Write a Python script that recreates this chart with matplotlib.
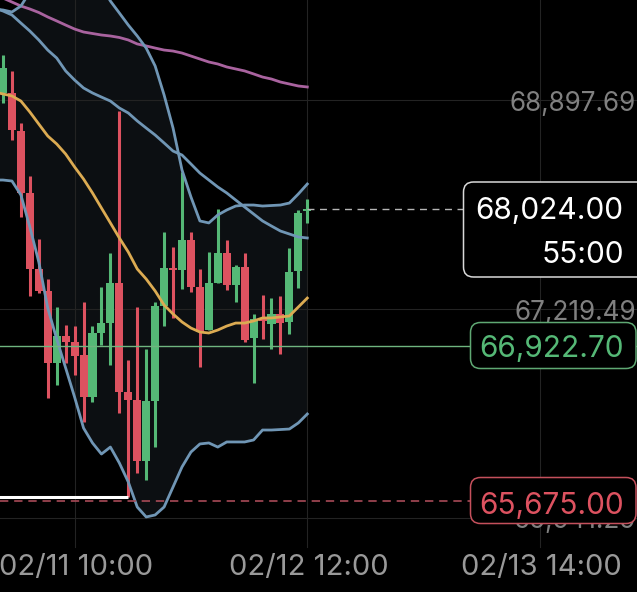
import numpy as np
import matplotlib
matplotlib.use('Agg')
import matplotlib.pyplot as plt
from matplotlib.patches import FancyBboxPatch
from matplotlib.transforms import IdentityTransform

plt.rcParams['font.family'] = ['Inter', 'DejaVu Sans']

# hourly candles, prices
opens = [68957, 68957, 68651, 68153, 67542, 67365, 66786, 67003, 66955, 66850,
         66512, 67027, 67107, 67429, 66553, 66488, 65998, 66480, 67244, 67550,
         67534, 67775, 67397, 67051, 67429, 67670, 67413, 67558, 66987, 67140,
         67099, 67180, 67115, 67526, 68008]
closes = [69158, 68659, 68153, 67542, 67365, 66786, 67003, 66955, 66842, 66512,
          67027, 67107, 67429, 66553, 66488, 65998, 66480, 67244, 67550, 67534,
          67775, 67397, 67035, 67429, 67670, 67413, 67558, 66971, 67140, 67124,
          67180, 67107, 67517, 67992, 68024]
highs = [69262, 69134, 68715, 68289, 67783, 67461, 67236, 67091, 67083, 67274,
         67083, 67397, 67670, 68812, 66810, 67236, 66898, 67276, 67839, 67718,
         68321, 67839, 67542, 67678, 68024, 67775, 67574, 67670, 67180, 67333,
         67308, 67325, 67710, 68016, 68104]
lows = [68876, 68579, 67960, 67325, 67349, 66504, 66609, 66786, 66689, 66311,
        66472, 66931, 66770, 66384, 65708, 65901, 65845, 66110, 67083, 67148,
        67381, 67357, 66754, 67051, 67429, 67373, 67276, 66955, 66625, 66979,
        66898, 66858, 67019, 67389, 67911]

# indicator lines start one candle earlier, off the left edge
upper = [69632, 69624, 69608, 69656, 69769, 69865, 69929, 69962, 69978, 69978, 69962, 69913,
         69817, 69696, 69600, 69503, 69415, 69318, 69174, 68941, 68675, 68338, 68121,
         67928, 67912, 67976, 68016, 68048, 68056, 68056, 68048, 68052, 68056, 68072,
         68145, 68225]
middle = [69640, 69616, 69584, 69519, 69455, 69383, 69302, 69238, 69134, 69061, 68997, 68957,
          68924, 68892, 68836, 68796, 68732, 68675, 68619, 68555, 68490, 68458, 68386,
          68313, 68257, 68201, 68153, 68096, 68040, 67984, 67928, 67887, 67847, 67823,
          67799, 67791]
lower = [68257, 68257, 68249, 68137, 67879, 67598, 67228, 66979, 66746, 66512, 66263, 66143,
         66054, 66110, 65982, 65829, 65628, 65548, 65564, 65628, 65789, 65950, 66070,
         66135, 66143, 66110, 66151, 66151, 66151, 66167, 66247, 66247, 66251, 66255,
         66304, 66376]
yellow_ma = [68965, 68949, 68933, 68892, 68804, 68707, 68611, 68547, 68466, 68362, 68265, 68153,
             68032, 67912, 67791, 67678, 67542, 67461, 67365, 67252, 67180, 67116, 67067,
             67035, 67027, 67051, 67083, 67107, 67107, 67124, 67148, 67148, 67156, 67164,
             67236, 67308]
purple_ma = [69745, 69720, 69688, 69656, 69632, 69604, 69568, 69536, 69503, 69471, 69447, 69435,
             69423, 69415, 69403, 69383, 69351, 69335, 69318, 69302, 69294, 69278, 69254,
             69230, 69206, 69190, 69166, 69150, 69134, 69110, 69085, 69069, 69045, 69029,
             69013, 69005]

price_ticks = [68897.69, 67219.49, 65541.29]
price_labels = ['68,897.69', '67,219.49', '65,541.29']
time_ticks = [8, 34, 60]
time_labels = ['02/11 10:00', '02/12 12:00', '02/13 14:00']

last_price = 68024.00
countdown = '55:00'
green_level = 66922.70
red_level = 65675.00

RED = '#dd5260'
GREEN = '#55b876'
BLUE = '#7096b5'
W, H = 637, 592

fig = plt.figure(figsize=(W / 100, H / 100), dpi=100, facecolor='black')
ax = fig.add_axes([0, 0, 1, 1], facecolor='black')
ax.set_xlim(-0.335, 70.84)
ax.set_ylim(64944.7, 69704.4)
ax.axis('off')

x = np.arange(len(opens))
x_lines = np.arange(-1, len(opens))

ax.fill_between(x_lines, lower, upper, color='#0c0f12', lw=0, zorder=1)

for p in price_ticks:
    ax.axhline(p, color='#232323', lw=0.8, zorder=1.5)
for t in time_ticks:
    ax.axvline(t, ymin=45 / H, color='#232323', lw=0.8, zorder=1.5)

colors = [GREEN if c >= o else RED for o, c in zip(opens, closes)]
ax.vlines(x, lows, highs, colors=colors, lw=2.2, zorder=2)
ax.bar(x, np.abs(np.array(closes) - np.array(opens)), bottom=np.minimum(opens, closes),
       width=0.9, color=colors, lw=0, zorder=2.1)

ax.plot(x_lines, purple_ma, color='#a9639f', lw=2.0, zorder=3)
ax.plot(x_lines, upper, color=BLUE, lw=2.0, zorder=3)
ax.plot(x_lines, middle, color=BLUE, lw=2.0, zorder=3)
ax.plot(x_lines, lower, color=BLUE, lw=2.0, zorder=3)
ax.plot(x_lines, yellow_ma, color='#dcab52', lw=2.0, zorder=3)

# levels
ax.hlines(lows[14], -1, 14, color='white', lw=2.2, zorder=4)
ax.axhline(green_level, color='#6fb57f', lw=1.0, zorder=4)
ax.axhline(red_level, color='#a84a57', lw=1.2, dashes=(5, 3.5), zorder=4)
ax.hlines(last_price, 34, 60, color='#b5b5b5', lw=1.0, linestyles=(0, (5, 4)), zorder=4)

# axis labels sit inside the plot
ytrans = ax.get_yaxis_transform()
for p, s in zip(price_ticks, price_labels):
    ax.text(0.998, p - 28, s, transform=ytrans, ha='right', va='center', color='#808080',
            fontsize=18.8, zorder=5)
for t, s in zip(time_ticks, time_labels):
    ax.text(t + 0.2, 65145, s, ha='center', va='center', color='#999999', fontsize=21, zorder=5)


def box(left, top, right, bottom, edge):
    # pixel rectangle measured from the top left of the picture
    ax.add_patch(FancyBboxPatch((left + 10, H - bottom + 10), right - left - 20, bottom - top - 20,
                                boxstyle='round,pad=10,rounding_size=10', fc='black', ec=edge,
                                lw=1.1, transform=IdentityTransform(), zorder=6, clip_on=False))


box(463.5, 182, 660, 277, '#d9d9d9')
box(470.5, 322.5, 636, 368.5, '#5fa873')
box(470.5, 477.5, 636, 523.5, '#c4505c')

ax.text(0.979, last_price - 16, f'{last_price:,.2f}', transform=ytrans, ha='right', va='center',
        color='white', fontsize=21.5, zorder=7)
ax.text(0.979, last_price - 371, countdown, transform=ytrans, ha='right', va='center',
        color='white', fontsize=21.5, zorder=7)
ax.text(0.979, green_level - 24, f'{green_level:,.2f}', transform=ytrans, ha='right', va='center',
        color=GREEN, fontsize=21.5, zorder=7)
ax.text(0.979, red_level - 40, f'{red_level:,.2f}', transform=ytrans, ha='right', va='center',
        color=RED, fontsize=21.5, zorder=7)

fig.savefig('out.png', dpi=100, facecolor='black')
